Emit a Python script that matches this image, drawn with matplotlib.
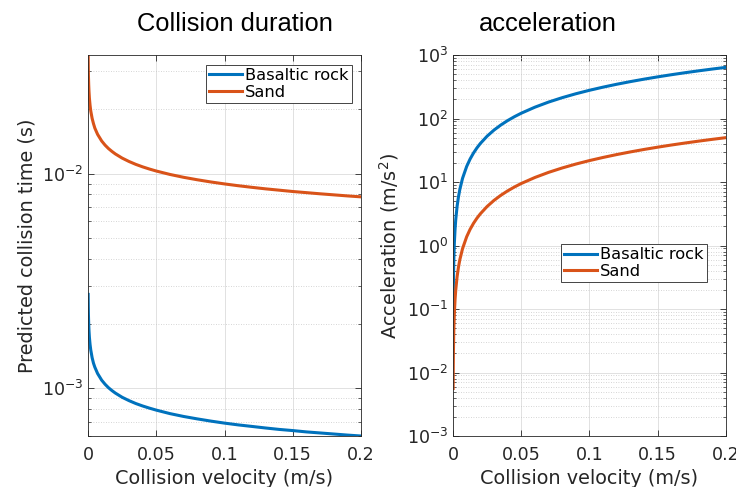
import numpy as np
import matplotlib
matplotlib.use("Agg")
from matplotlib import pyplot as plt
from matplotlib.ticker import NullFormatter, LogLocator

# data (velocity in m/s)
velocity = [0.0001, 0.0002, 0.0003, 0.0005, 0.0007, 0.001, 0.0015, 0.002, 0.003, 0.004,
            0.005, 0.007, 0.01, 0.0125, 0.015, 0.0175, 0.02, 0.025, 0.03, 0.035,
            0.04, 0.045, 0.05, 0.06, 0.07, 0.08, 0.09, 0.1, 0.11, 0.12,
            0.13, 0.14, 0.15, 0.16, 0.17, 0.18, 0.19, 0.2]
# collision time (s)
time_rock = [2.74e-3, 2.39e-3, 2.20e-3, 1.99e-3, 1.86e-3, 1.73e-3, 1.60e-3, 1.51e-3, 1.39e-3, 1.31e-3,
             1.255e-3, 1.173e-3, 1.092e-3, 1.045e-3, 1.007e-3, 9.77e-4, 9.51e-4, 9.09e-4, 8.77e-4, 8.50e-4,
             8.28e-4, 8.09e-4, 7.92e-4, 7.63e-4, 7.40e-4, 7.21e-4, 7.04e-4, 6.89e-4, 6.76e-4, 6.65e-4,
             6.54e-4, 6.44e-4, 6.36e-4, 6.27e-4, 6.20e-4, 6.13e-4, 6.06e-4, 6.00e-4]
time_sand = [3.57e-2, 3.10e-2, 2.86e-2, 2.59e-2, 2.42e-2, 2.25e-2, 2.08e-2, 1.96e-2, 1.81e-2, 1.71e-2,
             1.63e-2, 1.525e-2, 1.42e-2, 1.358e-2, 1.309e-2, 1.27e-2, 1.236e-2, 1.182e-2, 1.14e-2, 1.105e-2,
             1.076e-2, 1.051e-2, 1.029e-2, 9.92e-3, 9.62e-3, 9.37e-3, 9.15e-3, 8.96e-3, 8.79e-3, 8.64e-3,
             8.50e-3, 8.38e-3, 8.26e-3, 8.16e-3, 8.06e-3, 7.97e-3, 7.88e-3, 7.80e-3]
# acceleration (m/s^2)
acc_rock = [0.074, 0.161, 0.262, 0.483, 0.723, 1.11, 1.80, 2.55, 4.15, 5.85,
            7.65, 11.46, 17.58, 22.98, 28.59, 34.4, 40.4, 52.8, 65.7, 79.0,
            92.8, 106.9, 121.3, 150.9, 181.6, 213.1, 245.5, 278.6, 312.3, 346.7,
            381.6, 417.1, 453.2, 489.7, 526.6, 564.0, 601.8, 640.0]
acc_sand = [0.0056, 0.0126, 0.0204, 0.0377, 0.0565, 0.0866, 0.141, 0.199, 0.324, 0.457,
            0.598, 0.895, 1.373, 1.795, 2.234, 2.688, 3.155, 4.123, 5.132, 6.175,
            7.248, 8.35, 9.48, 11.79, 14.19, 16.65, 19.18, 21.77, 24.40, 27.09,
            29.81, 32.59, 35.41, 38.26, 41.14, 44.06, 47.02, 50.0]
series_names = ["Basaltic rock", "Sand"]
x_ticks = [0, 0.05, 0.1, 0.15, 0.2]
x_tick_labels = ["0", "0.05", "0.1", "0.15", "0.2"]

BLUE = "#0072BD"
ORANGE = "#D95319"
AXCOL = "#262626"
TICK_FS = 12.6
LABEL_FS = 13.9
TITLE_FS = 18.4
LEG_FS = 11.7

plt.rcParams['font.family'] = ['DejaVu Sans']
plt.rcParams['mathtext.default'] = 'regular'

fig = plt.figure(figsize=(7.36, 4.87), dpi=100)
ax1 = fig.add_axes([0.1196, 0.1047, 0.3709, 0.7823])
ax2 = fig.add_axes([0.6155, 0.1047, 0.3709, 0.7823])

def style(ax):
    ax.set_yscale("log")
    ax.set_xlim(0, 0.2)
    ax.set_xticks(x_ticks)
    ax.set_xticklabels(x_tick_labels)
    ax.yaxis.set_minor_locator(LogLocator(base=10, subs=np.arange(2, 10), numticks=50))
    ax.yaxis.set_minor_formatter(NullFormatter())
    ax.tick_params(which="both", direction="in", top=True, right=True, colors=AXCOL,
                   labelsize=TICK_FS, labelcolor=AXCOL)
    ax.tick_params(which="major", length=4, width=0.6)
    ax.tick_params(which="minor", length=2, width=0.5)
    ax.tick_params(axis="x", pad=7.5)
    ax.grid(True, which="major", color="#dcdcdc", lw=0.6)
    ax.grid(True, which="minor", axis="y", color="#c8c8c8", lw=0.6, ls=(0, (1, 2)))
    ax.set_axisbelow(True)
    for s in ax.spines.values():
        s.set_color(AXCOL)
        s.set_linewidth(0.6)

def legend(ax, anchor, loc):
    leg = ax.legend(loc=loc, bbox_to_anchor=anchor, fontsize=LEG_FS, fancybox=False,
                    framealpha=1, edgecolor=AXCOL, handlelength=2.0, handletextpad=0.2,
                    borderpad=0.2, labelspacing=0.1, borderaxespad=0)
    leg.get_frame().set_linewidth(0.6)

ax1.plot(velocity, time_rock, color=BLUE, lw=2.2, label=series_names[0])
ax1.plot(velocity, time_sand, color=ORANGE, lw=2.2, label=series_names[1])
style(ax1)
ax1.set_ylim(6.0e-4, 3.57e-2)
ax1.set_title("Collision duration", fontsize=TITLE_FS, family="Liberation Sans", pad=17, x=0.538)
ax1.set_xlabel("Collision velocity (m/s)", fontsize=LABEL_FS, color=AXCOL, labelpad=3)
ax1.set_ylabel("Predicted collision time (s)", fontsize=LABEL_FS, color=AXCOL)
legend(ax1, (0.967, 0.974), "upper right")

ax2.plot(velocity, acc_rock, color=BLUE, lw=2.2, label=series_names[0])
ax2.plot(velocity, acc_sand, color=ORANGE, lw=2.2, label=series_names[1])
style(ax2)
ax2.set_ylim(1e-3, 1e3)
ax2.set_yticks([1e-3, 1e-2, 1e-1, 1e0, 1e1, 1e2, 1e3])
ax2.set_title("acceleration", fontsize=TITLE_FS, family="Liberation Sans", pad=17, x=0.348)
ax2.set_xlabel("Collision velocity (m/s)", fontsize=LABEL_FS, color=AXCOL, labelpad=3)
ax2.set_ylabel("Acceleration (m/s$^2$)", fontsize=LABEL_FS, color=AXCOL)
legend(ax2, (0.3956, 0.504), "upper left")

plt.savefig("out.png", dpi=100)
